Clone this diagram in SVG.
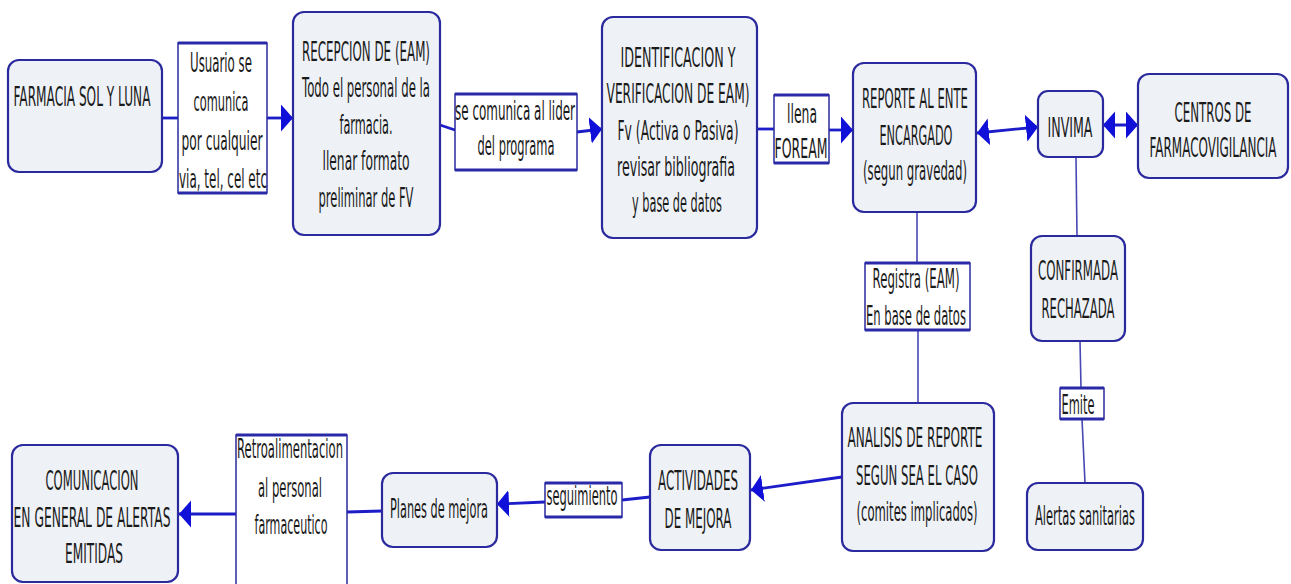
<svg xmlns="http://www.w3.org/2000/svg" width="1291" height="584" viewBox="0 0 1291 584">
<style>
.node{fill:#eef2f7;stroke:#2a2a9e;stroke-width:2.2}
.lbl{fill:#ffffff;stroke:#2a2a9e;stroke-width:1.5}
.lbledge{fill:none;stroke:#2a2aa8;stroke-width:3}
text{font-family:"DejaVu Sans","Liberation Sans",sans-serif;font-size:26px;fill:#1a1a1a;text-anchor:middle}
.arrow{fill:none;stroke:#1c1cc8;stroke-width:2.8}
.thin{fill:none;stroke:#4848b4;stroke-width:1.6}
</style>
<defs>
<marker id="ah" markerUnits="userSpaceOnUse" markerWidth="13" markerHeight="28" refX="12" refY="13.5" orient="auto-start-reverse" viewBox="0 0 13 28">
<path d="M0,0 L12,13.5 L0,27 Z" fill="#1010d8"/>
</marker>
</defs>
<g id="connectors">
<line class="arrow" x1="162" y1="118" x2="178" y2="118"/>
<line class="arrow" x1="267" y1="118" x2="293" y2="118" marker-end="url(#ah)"/>
<line class="arrow" x1="440" y1="125" x2="455" y2="130"/>
<line class="arrow" x1="577" y1="132" x2="602" y2="129" marker-end="url(#ah)"/>
<line class="arrow" x1="757" y1="129" x2="774" y2="129"/>
<line class="arrow" x1="829" y1="130" x2="853" y2="130" marker-end="url(#ah)"/>
<line class="arrow" x1="977" y1="133" x2="1038" y2="127" marker-start="url(#ah)" marker-end="url(#ah)"/>
<line class="arrow" x1="1103" y1="125" x2="1138" y2="125" marker-start="url(#ah)" marker-end="url(#ah)"/>
<line class="thin" x1="917" y1="212" x2="917" y2="263"/>
<line class="thin" x1="918" y1="330" x2="918" y2="403"/>
<line class="thin" x1="1076" y1="157" x2="1077" y2="236"/>
<line class="thin" x1="1080" y1="341" x2="1081" y2="388"/>
<line class="thin" x1="1082" y1="419" x2="1085" y2="483"/>
<line class="arrow" x1="842" y1="477" x2="751" y2="490" marker-end="url(#ah)"/>
<line class="arrow" x1="650" y1="497" x2="622" y2="500"/>
<line class="arrow" x1="545" y1="502" x2="497" y2="504" marker-end="url(#ah)"/>
<line class="arrow" x1="382" y1="511" x2="347" y2="512"/>
<line class="arrow" x1="236" y1="514" x2="179" y2="514" marker-end="url(#ah)"/>
</g>
<g id="n-farmacia">
<rect class="node" x="8" y="60" width="154" height="112" rx="11"/>
<text x="82" y="106" textLength="137" lengthAdjust="spacingAndGlyphs">FARMACIA SOL Y LUNA</text>
</g>
<g id="l-usuario">
<rect class="lbl" x="178" y="43" width="89" height="150"/>
<path class="lbledge" d="M178,43 H267 M178,193 H267"/>
<text x="221" y="72" textLength="62" lengthAdjust="spacingAndGlyphs">Usuario se</text>
<text x="221" y="111" textLength="55" lengthAdjust="spacingAndGlyphs">comunica</text>
<text x="222" y="150" textLength="81" lengthAdjust="spacingAndGlyphs">por cualquier</text>
<text x="223" y="188" textLength="88" lengthAdjust="spacingAndGlyphs">via, tel, cel etc</text>
</g>
<g id="n-recepcion">
<rect class="node" x="293" y="12" width="147" height="223" rx="11"/>
<text x="366" y="61" textLength="128" lengthAdjust="spacingAndGlyphs">RECEPCION DE (EAM)</text>
<text x="366" y="97" textLength="128" lengthAdjust="spacingAndGlyphs">Todo el personal de la</text>
<text x="366" y="134" textLength="53" lengthAdjust="spacingAndGlyphs">farmacia.</text>
<text x="366" y="170" textLength="87" lengthAdjust="spacingAndGlyphs">llenar formato</text>
<text x="366" y="207" textLength="95" lengthAdjust="spacingAndGlyphs">preliminar de FV</text>
</g>
<g id="l-lider">
<rect class="lbl" x="455" y="94" width="122" height="76"/>
<path class="lbledge" d="M455,94 H577 M455,170 H577"/>
<text x="515" y="120" textLength="120" lengthAdjust="spacingAndGlyphs">se comunica al lider</text>
<text x="516" y="155" textLength="77" lengthAdjust="spacingAndGlyphs">del programa</text>
</g>
<g id="n-identificacion">
<rect class="node" x="602" y="17" width="155" height="221" rx="11"/>
<text x="678" y="67" textLength="115" lengthAdjust="spacingAndGlyphs">IDENTIFICACION Y</text>
<text x="678" y="103" textLength="143" lengthAdjust="spacingAndGlyphs">VERIFICACION DE EAM)</text>
<text x="678" y="140" textLength="121" lengthAdjust="spacingAndGlyphs">Fv (Activa o Pasiva)</text>
<text x="676" y="176" textLength="118" lengthAdjust="spacingAndGlyphs">revisar bibliografia</text>
<text x="677" y="212" textLength="90" lengthAdjust="spacingAndGlyphs">y base de datos</text>
</g>
<g id="l-foream">
<rect class="lbl" x="774" y="95" width="55" height="68"/>
<path class="lbledge" d="M774,95 H829 M774,163 H829"/>
<text x="802" y="123" textLength="30" lengthAdjust="spacingAndGlyphs">llena</text>
<text x="801" y="158" textLength="53" lengthAdjust="spacingAndGlyphs">FOREAM</text>
</g>
<g id="n-reporte">
<rect class="node" x="853" y="63" width="123" height="149" rx="11"/>
<text x="915" y="108" textLength="106" lengthAdjust="spacingAndGlyphs">REPORTE AL ENTE</text>
<text x="916" y="145" textLength="73" lengthAdjust="spacingAndGlyphs">ENCARGADO</text>
<text x="915" y="180" textLength="104" lengthAdjust="spacingAndGlyphs">(segun gravedad)</text>
</g>
<g id="n-invima">
<rect class="node" x="1038" y="91" width="65" height="66" rx="10"/>
<text x="1070" y="137" textLength="45" lengthAdjust="spacingAndGlyphs">INVIMA</text>
</g>
<g id="n-centros">
<rect class="node" x="1138" y="74" width="150" height="104" rx="11"/>
<text x="1213" y="122" textLength="77" lengthAdjust="spacingAndGlyphs">CENTROS DE</text>
<text x="1213" y="157" textLength="127" lengthAdjust="spacingAndGlyphs">FARMACOVIGILANCIA</text>
</g>
<g id="l-registra">
<rect class="lbl" x="865" y="263" width="105" height="67"/>
<path class="lbledge" d="M865,263 H970 M865,330 H970"/>
<text x="916" y="288" textLength="87" lengthAdjust="spacingAndGlyphs">Registra (EAM)</text>
<text x="916" y="325" textLength="100" lengthAdjust="spacingAndGlyphs">En base de datos</text>
</g>
<g id="n-confirmada">
<rect class="node" x="1031" y="236" width="94" height="105" rx="11"/>
<text x="1078" y="280" textLength="80" lengthAdjust="spacingAndGlyphs">CONFIRMADA</text>
<text x="1078" y="318" textLength="73" lengthAdjust="spacingAndGlyphs">RECHAZADA</text>
</g>
<g id="l-emite">
<rect class="lbl" x="1060" y="388" width="44" height="31"/>
<path class="lbledge" d="M1060,388 H1104 M1060,419 H1104"/>
<text x="1078" y="414" textLength="33" lengthAdjust="spacingAndGlyphs">Emite</text>
</g>
<g id="n-alertas">
<rect class="node" x="1027" y="483" width="116" height="67" rx="11"/>
<text x="1085" y="525" textLength="100" lengthAdjust="spacingAndGlyphs">Alertas sanitarias</text>
</g>
<g id="n-analisis">
<rect class="node" x="842" y="403" width="152" height="148" rx="11"/>
<text x="915" y="447" textLength="135" lengthAdjust="spacingAndGlyphs">ANALISIS DE REPORTE</text>
<text x="917" y="485" textLength="122" lengthAdjust="spacingAndGlyphs">SEGUN SEA EL CASO</text>
<text x="917" y="521" textLength="121" lengthAdjust="spacingAndGlyphs">(comites implicados)</text>
</g>
<g id="n-actividades">
<rect class="node" x="650" y="445" width="100" height="105" rx="11"/>
<text x="698" y="490" textLength="80" lengthAdjust="spacingAndGlyphs">ACTIVIDADES</text>
<text x="698" y="528" textLength="67" lengthAdjust="spacingAndGlyphs">DE MEJORA</text>
</g>
<g id="l-seguimiento">
<rect class="lbl" x="545" y="483" width="77" height="34"/>
<path class="lbledge" d="M545,483 H622 M545,517 H622"/>
<text x="582" y="505" textLength="71" lengthAdjust="spacingAndGlyphs">seguimiento</text>
</g>
<g id="n-planes">
<rect class="node" x="382" y="473" width="115" height="74" rx="11"/>
<text x="439" y="518" textLength="98" lengthAdjust="spacingAndGlyphs">Planes de mejora</text>
</g>
<g id="l-retro">
<rect class="lbl" x="236" y="435" width="111" height="155"/>
<path class="lbledge" d="M236,435 H347"/>
<text x="290" y="458" textLength="106" lengthAdjust="spacingAndGlyphs">Retroalimentacion</text>
<text x="290" y="497" textLength="64" lengthAdjust="spacingAndGlyphs">al personal</text>
<text x="291" y="534" textLength="73" lengthAdjust="spacingAndGlyphs">farmaceutico</text>
</g>
<g id="n-comunicacion">
<rect class="node" x="12" y="445" width="166" height="137" rx="11"/>
<text x="92" y="490" textLength="93" lengthAdjust="spacingAndGlyphs">COMUNICACION</text>
<text x="92" y="527" textLength="157" lengthAdjust="spacingAndGlyphs">EN GENERAL DE ALERTAS</text>
<text x="94" y="563" textLength="58" lengthAdjust="spacingAndGlyphs">EMITIDAS</text>
</g>
</svg>
